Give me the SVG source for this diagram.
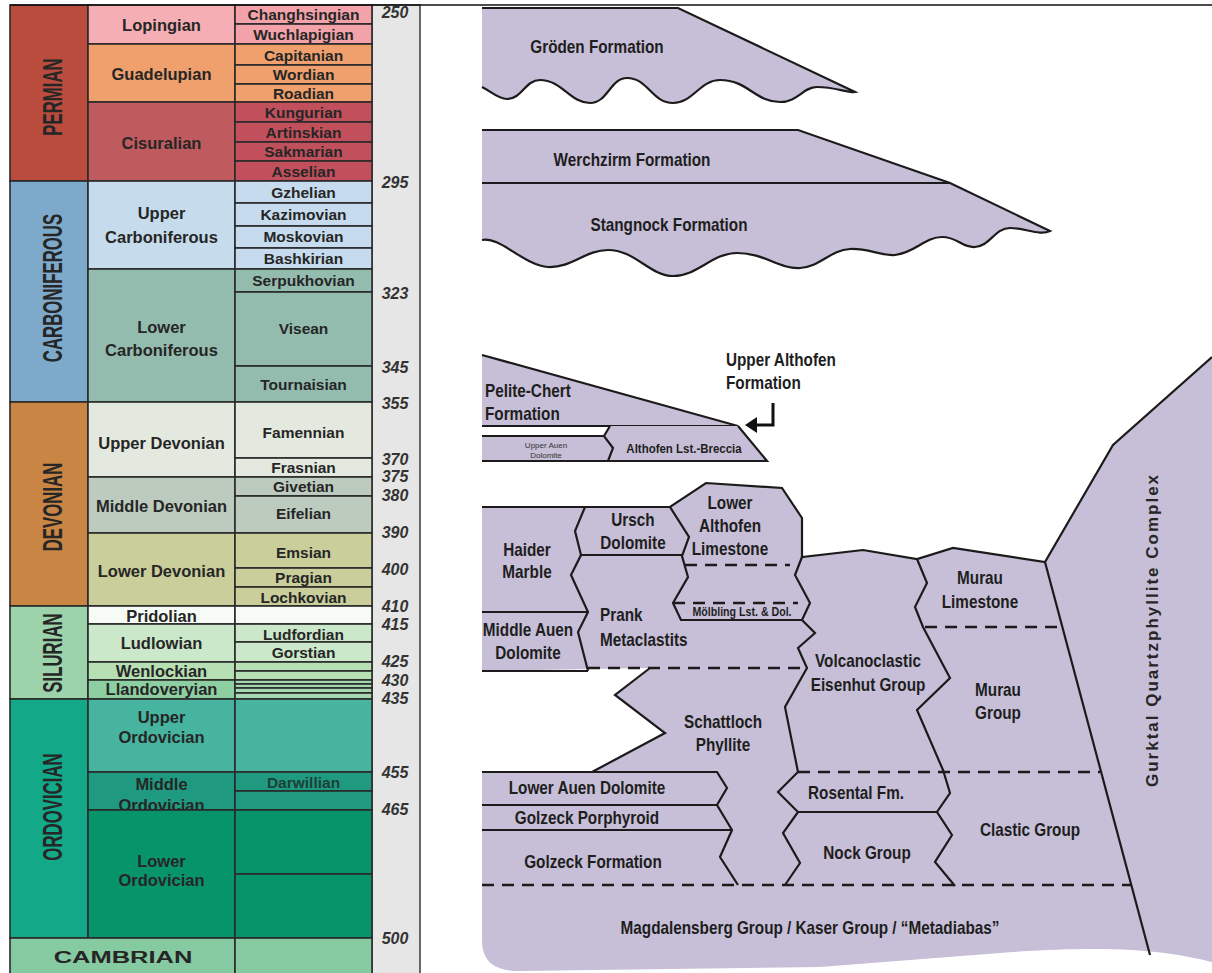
<svg xmlns="http://www.w3.org/2000/svg" width="1212" height="973" viewBox="0 0 1212 973">
<style>
.c{stroke:#2a2a2a;stroke-width:1.6}
.t{font-family:"Liberation Sans",Arial,Helvetica,sans-serif;font-weight:bold;fill:#262626}
.ep{font-size:16.5px;text-anchor:middle}
.st{font-size:15.5px;text-anchor:middle}
.age{font-size:16px;font-style:italic;text-anchor:middle;fill:#333}
.per{font-size:28px;text-anchor:middle}
.lb{font-size:18px;text-anchor:middle;fill:#1e1e1e}
.ls{font-size:18px;fill:#1e1e1e}
.fm{fill:#C7BFD7}
.ol{fill:none;stroke:#1b1b1b;stroke-width:2.2;stroke-linejoin:miter}
.fo{fill:#C7BFD7;stroke:#1b1b1b;stroke-width:2.2;stroke-linejoin:miter}
.da{fill:none;stroke:#1b1b1b;stroke-width:2.6;stroke-dasharray:12 8}
.sm{font-family:"Liberation Sans",Arial,Helvetica,sans-serif;font-size:8px;fill:#333;text-anchor:middle}
</style>
<rect width="1212" height="973" fill="#fff"/>
<rect id="age-strip" x="372" y="5" width="48" height="970" fill="#E6E6E6" stroke="#444" stroke-width="1.6"/>
<g id="permian">
<rect class="c" x="10" y="5" width="78" height="176" fill="#B94C3D"/>
<rect class="c" x="88" y="5" width="147" height="39" fill="#F4AEB4"/>
<rect class="c" x="88" y="44" width="147" height="58" fill="#EFA06C"/>
<rect class="c" x="88" y="102" width="147" height="79" fill="#BF5A5E"/>
<rect class="c" x="235" y="5" width="137" height="19" fill="#F2A2A8"/>
<rect class="c" x="235" y="24" width="137" height="20" fill="#F2A2A8"/>
<rect class="c" x="235" y="44" width="137" height="21" fill="#EFA06C"/>
<rect class="c" x="235" y="65" width="137" height="19" fill="#EFA06C"/>
<rect class="c" x="235" y="84" width="137" height="18" fill="#EFA06C"/>
<rect class="c" x="235" y="102" width="137" height="20" fill="#C2505C"/>
<rect class="c" x="235" y="122" width="137" height="20" fill="#C2505C"/>
<rect class="c" x="235" y="142" width="137" height="19" fill="#C2505C"/>
<rect class="c" x="235" y="161" width="137" height="20" fill="#C2505C"/>
<text class="t per" transform="translate(52,97) rotate(-90) scale(0.6,1)" y="10">PERMIAN</text>
<text class="t ep" x="161.5" y="31">Lopingian</text>
<text class="t ep" x="161.5" y="80">Guadelupian</text>
<text class="t ep" x="161.5" y="149">Cisuralian</text>
<text class="t st" x="303.5" y="20">Changhsingian</text>
<text class="t st" x="303.5" y="39.5">Wuchlapigian</text>
<text class="t st" x="303.5" y="60.5">Capitanian</text>
<text class="t st" x="303.5" y="80">Wordian</text>
<text class="t st" x="303.5" y="98.5">Roadian</text>
<text class="t st" x="303.5" y="117.5">Kungurian</text>
<text class="t st" x="303.5" y="137.5">Artinskian</text>
<text class="t st" x="303.5" y="157">Sakmarian</text>
<text class="t st" x="303.5" y="176.5">Asselian</text>
</g>
<g id="carboniferous">
<rect class="c" x="10" y="181" width="78" height="221" fill="#7DAACB"/>
<rect class="c" x="88" y="181" width="147" height="88" fill="#C6DCEC"/>
<rect class="c" x="88" y="269" width="147" height="133" fill="#93BCAF"/>
<rect class="c" x="235" y="181" width="137" height="22" fill="#C6DCEE"/>
<rect class="c" x="235" y="203" width="137" height="23" fill="#C6DCEE"/>
<rect class="c" x="235" y="226" width="137" height="22" fill="#C6DCEE"/>
<rect class="c" x="235" y="248" width="137" height="21" fill="#C6DCEE"/>
<rect class="c" x="235" y="269" width="137" height="23" fill="#93BCAF"/>
<rect class="c" x="235" y="292" width="137" height="74" fill="#93BCAF"/>
<rect class="c" x="235" y="366" width="137" height="36" fill="#93BCAF"/>
<text class="t per" transform="translate(52,288) rotate(-90) scale(0.6,1)" y="10">CARBONIFEROUS</text>
<text class="t ep" x="161.5" y="219">Upper</text>
<text class="t ep" x="161.5" y="243">Carboniferous</text>
<text class="t ep" x="161.5" y="333">Lower</text>
<text class="t ep" x="161.5" y="356">Carboniferous</text>
<text class="t st" x="303.5" y="197.5">Gzhelian</text>
<text class="t st" x="303.5" y="219.5">Kazimovian</text>
<text class="t st" x="303.5" y="241.5">Moskovian</text>
<text class="t st" x="303.5" y="263.5">Bashkirian</text>
<text class="t st" x="303.5" y="285.5">Serpukhovian</text>
<text class="t st" x="303.5" y="333.5">Visean</text>
<text class="t st" x="303.5" y="389.5">Tournaisian</text>
</g>
<g id="devonian">
<rect class="c" x="10" y="402" width="78" height="204" fill="#C98543"/>
<rect class="c" x="88" y="402" width="147" height="75" fill="#E3E9DF"/>
<rect class="c" x="88" y="477" width="147" height="56" fill="#BDCBBF"/>
<rect class="c" x="88" y="533" width="147" height="73" fill="#C9CE9B"/>
<rect class="c" x="235" y="402" width="137" height="56" fill="#E3E9DF"/>
<rect class="c" x="235" y="458" width="137" height="19" fill="#E3E9DF"/>
<rect class="c" x="235" y="477" width="137" height="19" fill="#BDCBBF"/>
<rect class="c" x="235" y="496" width="137" height="37" fill="#BDCBBF"/>
<rect class="c" x="235" y="533" width="137" height="35" fill="#C9CE9B"/>
<rect class="c" x="235" y="568" width="137" height="19" fill="#C9CE9B"/>
<rect class="c" x="235" y="587" width="137" height="19" fill="#C9CE9B"/>
<text class="t per" transform="translate(52,507) rotate(-90) scale(0.6,1)" y="10">DEVONIAN</text>
<text class="t ep" x="161.5" y="449">Upper Devonian</text>
<text class="t ep" x="161.5" y="512">Middle Devonian</text>
<text class="t ep" x="161.5" y="577">Lower Devonian</text>
<text class="t st" x="303.5" y="437.5">Famennian</text>
<text class="t st" x="303.5" y="472.5">Frasnian</text>
<text class="t st" x="303.5" y="491.5">Givetian</text>
<text class="t st" x="303.5" y="518.5">Eifelian</text>
<text class="t st" x="303.5" y="557.5">Emsian</text>
<text class="t st" x="303.5" y="582.5">Pragian</text>
<text class="t st" x="303.5" y="602.5">Lochkovian</text>
</g>
<g id="silurian">
<rect class="c" x="10" y="606" width="78" height="93" fill="#9CD3AA"/>
<rect class="c" x="88" y="606" width="147" height="18" fill="#F6FBF6"/>
<rect class="c" x="88" y="624" width="147" height="38" fill="#CBE8CB"/>
<rect class="c" x="88" y="662" width="147" height="18" fill="#B6DFB3"/>
<rect class="c" x="88" y="680" width="147" height="19" fill="#8ECFA2"/>
<rect class="c" x="235" y="606" width="137" height="18" fill="#F6FBF6"/>
<rect class="c" x="235" y="624" width="137" height="18" fill="#CBE8CB"/>
<rect class="c" x="235" y="642" width="137" height="20" fill="#CBE8CB"/>
<rect class="c" x="235" y="662" width="137" height="9" fill="#B6DFB3"/>
<rect class="c" x="235" y="671" width="137" height="9" fill="#B6DFB3"/>
<rect class="c" x="235" y="680" width="137" height="4" fill="#A3D8B0"/>
<rect class="c" x="235" y="684" width="137" height="4" fill="#A3D8B0"/>
<rect class="c" x="235" y="688" width="137" height="5" fill="#A3D8B0"/>
<rect class="c" x="235" y="693" width="137" height="6" fill="#A3D8B0"/>
<text class="t per" transform="translate(52,653) rotate(-90) scale(0.6,1)" y="10">SILURIAN</text>
<text class="t ep" x="161.5" y="622">Pridolian</text>
<text class="t ep" x="161.5" y="649">Ludlowian</text>
<text class="t ep" x="161.5" y="677">Wenlockian</text>
<text class="t ep" x="161.5" y="695">Llandoveryian</text>
<text class="t st" x="303.5" y="639.5">Ludfordian</text>
<text class="t st" x="303.5" y="658">Gorstian</text>
</g>
<g id="ordovician">
<rect class="c" x="10" y="699" width="78" height="239" fill="#12A888"/>
<rect class="c" x="88" y="699" width="147" height="73" fill="#46B49F"/>
<rect class="c" x="88" y="772" width="147" height="38" fill="#1F9A80"/>
<rect class="c" x="235" y="699" width="137" height="73" fill="#46B49F"/>
<rect class="c" x="235" y="772" width="137" height="19" fill="#1F9A80"/>
<rect class="c" x="235" y="791" width="137" height="19" fill="#1F9A80"/>
<text class="t per" transform="translate(52,807) rotate(-90) scale(0.6,1)" y="10">ORDOVICIAN</text>
<text class="t ep" x="161.5" y="723">Upper</text>
<text class="t ep" x="161.5" y="743">Ordovician</text>
<text class="t ep" x="161.5" y="790">Middle</text>
<text class="t ep" x="161.5" y="811">Ordovician</text>
<rect class="c" x="88" y="810" width="147" height="128" fill="#08946B"/>
<rect class="c" x="235" y="810" width="137" height="64" fill="#08946B"/>
<rect class="c" x="235" y="874" width="137" height="64" fill="#08946B"/>
<text class="t ep" x="161.5" y="867">Lower</text>
<text class="t ep" x="161.5" y="886">Ordovician</text>
<text class="t st" x="303.5" y="787.5" style="fill:#1d3f38">Darwillian</text>
</g>
<g id="cambrian">
<rect class="c" x="10" y="938" width="225" height="40" fill="#86CAA2"/>
<rect class="c" x="235" y="938" width="137" height="40" fill="#86CAA2"/>
<text class="t" font-size="17" text-anchor="middle" transform="translate(123,963) scale(1.5,1)">CAMBRIAN</text>
</g>
<g id="ages">
<text class="t age" x="395" y="18">250</text>
<text class="t age" x="395" y="188">295</text>
<text class="t age" x="395" y="299">323</text>
<text class="t age" x="395" y="373">345</text>
<text class="t age" x="395" y="409">355</text>
<text class="t age" x="395" y="465">370</text>
<text class="t age" x="395" y="482">375</text>
<text class="t age" x="395" y="501">380</text>
<text class="t age" x="395" y="538">390</text>
<text class="t age" x="395" y="575">400</text>
<text class="t age" x="395" y="612">410</text>
<text class="t age" x="395" y="630">415</text>
<text class="t age" x="395" y="667">425</text>
<text class="t age" x="395" y="686">430</text>
<text class="t age" x="395" y="704">435</text>
<text class="t age" x="395" y="778">455</text>
<text class="t age" x="395" y="815">465</text>
<text class="t age" x="395" y="944">500</text>
</g>
<line id="top-rule" x1="10" y1="5" x2="1212" y2="5" stroke="#111" stroke-width="1.6"/>

<g id="groeden">
<path class="fo" d="M482,87 C492,92 498,99 507,99 C522,99 525,80 540,80 C562,80 570,103 590,103 C608,103 610,78 627,78 C648,78 652,103 673,103 C693,103 700,80 720,80 C748,80 755,102 780,102 C798,102 803,87 817,87 C835,87 848,93 855,92 L678,8 L482,8"/>
<text class="t lb" transform="translate(597,53) scale(0.85,1)">Gröden Formation</text>
</g>
<g id="werchzirm-stangnock">
<path class="fo" d="M482,240 C500,236 525,266 548,267 C572,268 585,250 608,250 C635,250 650,276 673,276 C698,276 712,253 737,253 C765,253 778,269 800,268 C820,267 830,250 850,249 C868,248 880,256 895,255 C915,253 925,237 942,237 C958,237 962,248 975,247 C990,246 995,228 1010,228 C1025,228 1040,236 1050,231 L950,183 L798,130 L482,130"/>
<path class="ol" d="M482,183 L950,183"/>
<text class="t lb" transform="translate(632,166) scale(0.85,1)">Werchzirm Formation</text>
<text class="t lb" transform="translate(669,231) scale(0.85,1)">Stangnock Formation</text>
</g>
<g id="pelite-chert">
<path class="fo" d="M482,355 L738,426 L482,426"/>
<text class="t ls" transform="translate(485,397) scale(0.85,1)">Pelite-Chert</text>
<text class="t ls" transform="translate(485,420) scale(0.85,1)">Formation</text>
</g>
<g id="althofen-breccia">
<path class="fm" d="M482,436 L604,436 L610,426 L738,426 L767,461 L482,461 Z"/>
<path class="ol" d="M482,436 L604,436 L613,448 L608,461 M604,436 L610,426 M738,426 L767,461 L482,461"/>
<text class="sm" x="546" y="448">Upper Auen</text>
<text class="sm" x="546" y="458">Dolomite</text>
<text class="t lb" transform="translate(684,453) scale(0.85,1)" style="font-size:13.5px">Althofen Lst.-Breccia</text>
</g>
<g id="upper-althofen">
<text class="t ls" transform="translate(726,366) scale(0.85,1)">Upper Althofen</text>
<text class="t ls" transform="translate(726,389) scale(0.85,1)">Formation</text>
</g>
<g id="connectors">
<path d="M773,403 L773,425 L754,425" fill="none" stroke="#111" stroke-width="3"/>
<polygon points="745,425 757,417 757,433" fill="#111"/>
</g>
<g id="lower-block">
<path class="fm" d="M482,507 L670,507 L706,483 L782,488 L802,518 L802,557 L863,550 L917,559 L953,548 L1045,562 L1113,445 L1212,357 L1212,962 C1170,952 1120,944 1000,953 L820,967 L520,971 C495,971 482,962 482,940 L482,772 L592,772 L665,733 L615,695 L650,668 L482,671 Z"/>
<path class="ol" d="M482,507 L670,507 L706,483 L782,488 L802,518 L802,557 L863,550 L917,559 L953,548 L1045,562 L1113,445 L1212,357"/>
</g>
<g id="boundaries">
<path class="ol" d="M585,507 L575,531 L581,555 L571,575 L588,612 L578,632 L588,671"/>
<path class="ol" d="M482,612 L588,612 M482,671 L588,671 M581,555 L682,555"/>
<path class="ol" d="M670,507 L689,537 L682,556 L688,577 L673,603 L681,620 L802,620"/>
<path class="ol" d="M802,557 L795,575 L810,603 L802,620 L815,633 L798,648 L807,668 L785,707 L798,772 L778,792 L798,812 L783,833 L800,863 L785,885"/>
<path class="ol" d="M917,559 L927,583 L915,607 L923,627 L950,678 L917,710 L943,770 L950,793 L937,812 L952,835 L935,862 L955,886"/>
<path class="ol" d="M798,812 L937,812"/>
<path class="ol" d="M482,772 L717,772 L727,788 L717,805 L732,830 L720,857 L738,885 M482,805 L717,805 M482,830 L732,830"/>
<path class="ol" d="M650,668 L615,695 L665,733 L592,772"/>
<path class="ol" d="M1045,562 L1150,955"/>
<path class="da" d="M685,565 L790,565 M673,603 L798,603 M588,668 L805,668 M925,627 L1060,627 M798,772 L1100,772 M482,885 L1132,885"/>
</g>
<g id="haider-marble"><text class="t lb" transform="translate(527,556) scale(0.85,1)">Haider</text><text class="t lb" transform="translate(527,578) scale(0.85,1)">Marble</text></g>
<g id="ursch-dolomite"><text class="t lb" transform="translate(633,526) scale(0.85,1)">Ursch</text><text class="t lb" transform="translate(633,549) scale(0.85,1)">Dolomite</text></g>
<g id="lower-althofen"><text class="t lb" transform="translate(730,509) scale(0.85,1)">Lower</text><text class="t lb" transform="translate(730,532) scale(0.85,1)">Althofen</text><text class="t lb" transform="translate(730,555) scale(0.85,1)">Limestone</text></g>
<g id="moelbling"><text class="t lb" transform="translate(742,616) scale(0.85,1)" style="font-size:12.5px">Mölbling Lst. &amp; Dol.</text></g>
<g id="prank"><text class="t ls" transform="translate(600,621) scale(0.85,1)">Prank</text><text class="t ls" transform="translate(600,646) scale(0.85,1)">Metaclastits</text></g>
<g id="middle-auen"><text class="t lb" transform="translate(528,636) scale(0.85,1)">Middle Auen</text><text class="t lb" transform="translate(528,659) scale(0.85,1)">Dolomite</text></g>
<g id="volcanoclastic"><text class="t lb" transform="translate(868,667) scale(0.85,1)">Volcanoclastic</text><text class="t lb" transform="translate(868,691) scale(0.85,1)">Eisenhut Group</text></g>
<g id="murau-limestone"><text class="t lb" transform="translate(980,584) scale(0.85,1)">Murau</text><text class="t lb" transform="translate(980,608) scale(0.85,1)">Limestone</text></g>
<g id="murau-group"><text class="t lb" transform="translate(998,696) scale(0.85,1)">Murau</text><text class="t lb" transform="translate(998,719) scale(0.85,1)">Group</text></g>
<g id="schattloch"><text class="t lb" transform="translate(723,728) scale(0.85,1)">Schattloch</text><text class="t lb" transform="translate(723,751) scale(0.85,1)">Phyllite</text></g>
<g id="lower-auen"><text class="t lb" transform="translate(587,794) scale(0.85,1)">Lower Auen Dolomite</text></g>
<g id="golzeck-porphyroid"><text class="t lb" transform="translate(587,824) scale(0.85,1)">Golzeck Porphyroid</text></g>
<g id="golzeck-formation"><text class="t lb" transform="translate(593,868) scale(0.85,1)">Golzeck Formation</text></g>
<g id="rosental"><text class="t lb" transform="translate(856,799) scale(0.85,1)">Rosental Fm.</text></g>
<g id="nock"><text class="t lb" transform="translate(867,859) scale(0.85,1)">Nock Group</text></g>
<g id="clastic"><text class="t lb" transform="translate(1030,836) scale(0.85,1)">Clastic Group</text></g>
<g id="magdalensberg"><text class="t lb" transform="translate(810,934) scale(0.85,1)">Magdalensberg Group / Kaser Group / “Metadiabas”</text></g>
<g id="gurktal"><text class="t" font-size="17" letter-spacing="2" text-anchor="middle" transform="translate(1158,630) rotate(-90)">Gurktal Quartzphyllite Complex</text></g>
</svg>
